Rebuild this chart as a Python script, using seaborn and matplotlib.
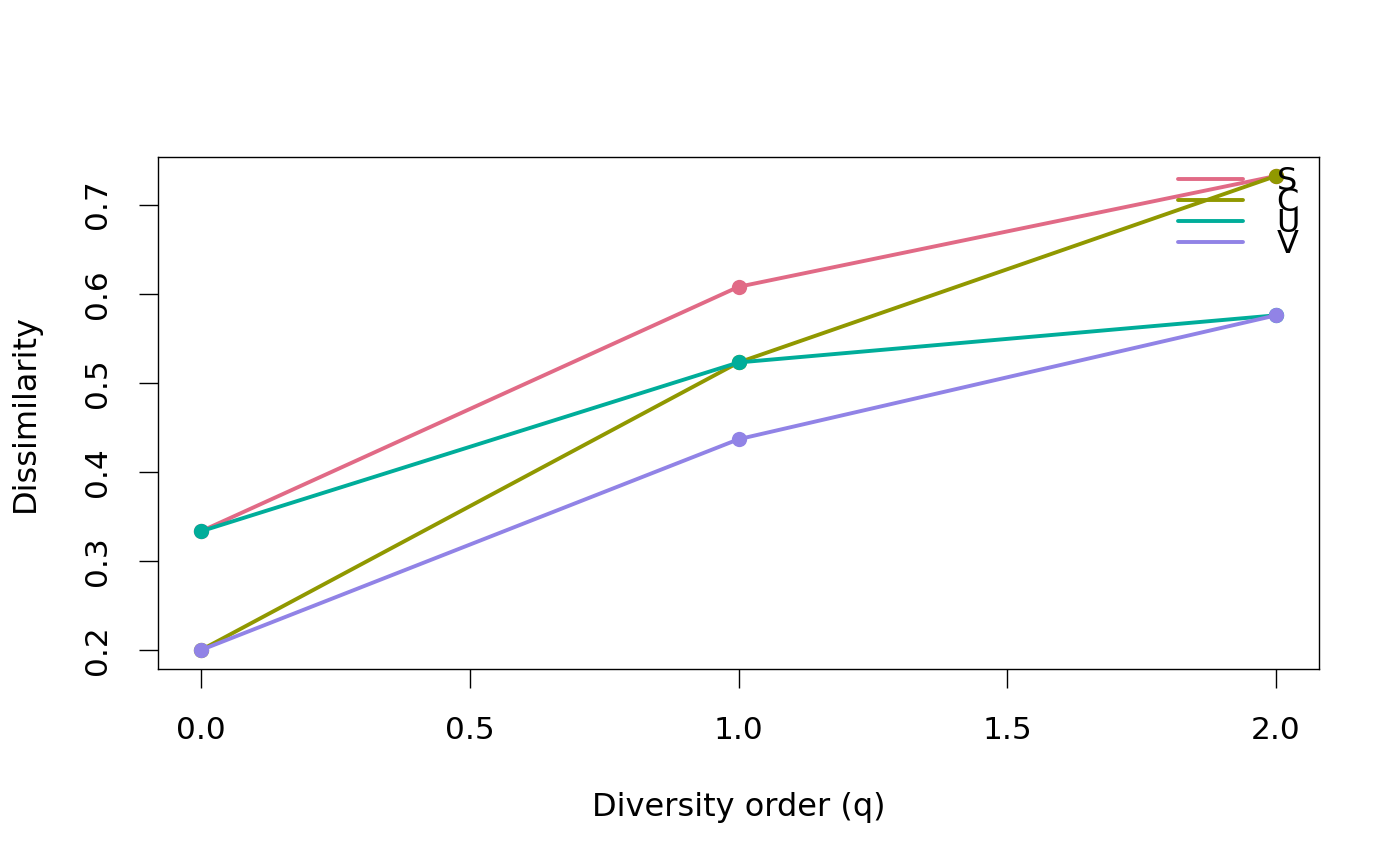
import pandas as pd
import seaborn as sns
import matplotlib.pyplot as plt

# diversity orders and dissimilarity per index
q = [0, 1, 2]
groups = ["S", "C", "U", "V"]
s_vals = [0.3333, 0.6077, 0.7321]
c_vals = [0.2000, 0.5228, 0.7321]
u_vals = [0.3333, 0.5228, 0.5757]
v_vals = [0.2000, 0.4366, 0.5757]
colors = ["#E16A86", "#909800", "#00AD9A", "#9183E6"]

df = pd.DataFrame({
    "q": q * 4,
    "value": s_vals + c_vals + u_vals + v_vals,
    "index": [g for g in groups for _ in q],
})

sns.set_style("white")
plt.rcParams["font.family"] = ["DejaVu Sans"]
plt.rcParams["text.color"] = "black"
plt.rcParams["axes.labelcolor"] = "black"
plt.rcParams["xtick.color"] = "black"
plt.rcParams["ytick.color"] = "black"

fig = plt.figure(figsize=(14, 8.66), dpi=100)
ax = fig.add_axes([0.1129, 0.2275, 0.8293, 0.5912])

sns.lineplot(data=df, x="q", y="value", hue="index", hue_order=groups,
             palette=colors, marker="o", markersize=11, markeredgewidth=0,
             linewidth=2.8, ax=ax)

ax.set_xlim(-0.08, 2.08)
ax.set_ylim(0.1787, 0.7534)
ax.set_xticks([0, 0.5, 1.0, 1.5, 2.0])
ax.set_xticklabels(["0.0", "0.5", "1.0", "1.5", "2.0"])
ax.set_yticks([0.2, 0.3, 0.4, 0.5, 0.6, 0.7])
ax.set_yticklabels(["0.2", "0.3", "0.4", "0.5", "0.6", "0.7"], rotation=90, va="center")
ax.tick_params(axis="both", direction="out", length=13.5, width=1, color="black",
               labelcolor="black", labelsize=22.5, pad=20, bottom=True, left=True)
for sp in ax.spines.values():
    sp.set_color("black")
    sp.set_linewidth(1)

ax.set_xlabel("Diversity order (q)", fontsize=23, labelpad=34)
ax.set_ylabel("Dissimilarity", fontsize=23, labelpad=30)

handles, labels = ax.get_legend_handles_labels()
for h in handles:
    h.set_marker("")
    h.set_linewidth(2.8)
leg = ax.legend(handles, labels, loc="upper right", frameon=False, fontsize=23,
                handlelength=2.05, handletextpad=1.05, labelspacing=-0.31,
                borderpad=0.2, borderaxespad=0.4, bbox_to_anchor=(1.0, 1.02))

fig.savefig("out.png", dpi=100)
